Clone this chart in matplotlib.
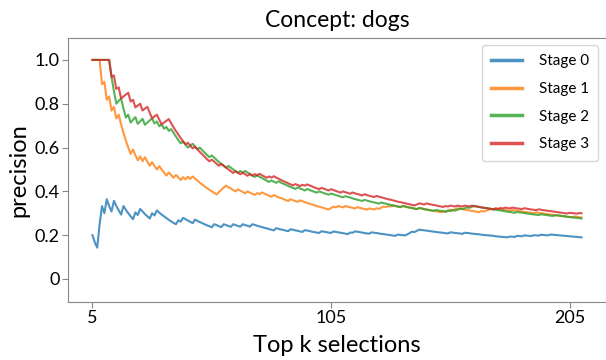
import matplotlib
matplotlib.use("Agg")
import matplotlib.pyplot as plt

plt.rcParams['font.family'] = ['Lato', 'DejaVu Sans']

title = "Concept: dogs"
x_label = "Top k selections"
y_label = "precision"
series_names = ["Stage 0", "Stage 1", "Stage 2", "Stage 3"]
x_ticks = [5, 105, 205]
y_ticks = [0, 0.2, 0.4, 0.6, 0.8, 1.0]
y_tick_labels = ["0", "0.2", "0.4", "0.6", "0.8", "1.0"]

top_k = list(range(5, 211))

stage0 = [
    .200, .167, .143, .250, .333, .300, .364, .333, .308, .357,
    .333, .313, .294, .333, .316, .300, .286, .273, .304, .292,
    .320, .308, .296, .286, .276, .300, .290, .313, .303, .294,
    .286, .278, .270, .263, .256, .250, .268, .262, .279, .273,
    .267, .261, .255, .271, .265, .260, .255, .250, .245, .241,
    .236, .250, .246, .241, .237, .250, .246, .242, .238, .250,
    .246, .242, .239, .250, .246, .243, .239, .250, .247, .243,
    .240, .237, .234, .231, .228, .225, .222, .232, .229, .226,
    .224, .221, .218, .227, .225, .222, .220, .217, .215, .223,
    .221, .219, .216, .214, .212, .210, .218, .216, .214, .212,
    .210, .217, .215, .213, .211, .209, .207, .205, .212, .211,
    .217, .216, .214, .212, .210, .208, .207, .213, .211, .210,
    .208, .206, .205, .203, .202, .200, .198, .197, .203, .201,
    .200, .199, .204, .210, .216, .214, .220, .225, .224, .222,
    .221, .219, .218, .216, .215, .213, .212, .211, .209, .208,
    .213, .212, .210, .209, .208, .206, .211, .210, .209, .207,
    .206, .205, .204, .202, .201, .200, .199, .198, .197, .195,
    .194, .193, .192, .191, .190, .194, .193, .192, .197, .196,
    .195, .199, .198, .197, .196, .200, .199, .198, .202, .201,
    .200, .199, .203, .202, .201, .200, .199, .198, .197, .196,
    .195, .194, .193, .192, .191, .190,
]

stage1 = [
    1.0, 1.0, 1.0, 1.0, .889, .900, .818, .833, .769, .786,
    .733, .750, .706, .667, .632, .600, .571, .591, .565, .542,
    .560, .538, .556, .536, .517, .533, .516, .500, .515, .500,
    .486, .472, .486, .474, .462, .475, .463, .452, .465, .455,
    .467, .457, .468, .458, .449, .440, .431, .423, .415, .407,
    .400, .393, .386, .397, .407, .417, .426, .419, .413, .406,
    .400, .409, .403, .397, .391, .400, .394, .389, .384, .392,
    .387, .395, .390, .385, .380, .375, .383, .378, .373, .369,
    .365, .360, .356, .364, .360, .356, .352, .359, .355, .351,
    .347, .344, .340, .337, .333, .330, .327, .324, .320, .317,
    .324, .330, .327, .333, .330, .327, .333, .330, .327, .325,
    .322, .328, .325, .322, .319, .317, .322, .320, .317, .323,
    .320, .325, .331, .328, .333, .331, .336, .333, .331, .328,
    .333, .331, .328, .326, .324, .321, .319, .324, .322, .319,
    .317, .315, .313, .311, .309, .307, .305, .309, .307, .312,
    .316, .314, .318, .323, .321, .319, .317, .315, .313, .311,
    .309, .307, .305, .310, .308, .312, .316, .320, .318, .322,
    .320, .318, .316, .315, .313, .311, .315, .313, .311, .310,
    .308, .306, .305, .303, .302, .300, .304, .302, .301, .299,
    .297, .296, .294, .293, .291, .290, .289, .287, .286, .284,
    .283, .282, .285, .284, .282, .281,
]

stage2 = [
    1.0, 1.0, 1.0, 1.0, 1.0, 1.0, 1.0, 1.0, .923, .857,
    .800, .813, .824, .778, .737, .750, .714, .727, .739, .708,
    .720, .731, .704, .714, .724, .733, .710, .719, .697, .706,
    .686, .694, .676, .684, .667, .650, .634, .619, .628, .614,
    .600, .609, .617, .604, .592, .600, .588, .577, .566, .556,
    .564, .554, .544, .534, .525, .517, .508, .516, .508, .500,
    .492, .485, .493, .485, .493, .486, .479, .472, .466, .473,
    .467, .461, .455, .449, .443, .450, .444, .439, .446, .440,
    .435, .430, .425, .420, .416, .411, .418, .413, .409, .404,
    .411, .406, .402, .398, .394, .400, .396, .392, .388, .385,
    .390, .387, .383, .380, .376, .373, .378, .375, .372, .368,
    .365, .362, .359, .356, .361, .358, .355, .352, .350, .347,
    .344, .349, .346, .344, .341, .338, .336, .333, .331, .328,
    .333, .331, .328, .326, .324, .321, .319, .324, .322, .319,
    .317, .315, .313, .311, .315, .313, .311, .309, .307, .312,
    .310, .314, .312, .316, .321, .319, .323, .327, .325, .329,
    .333, .331, .329, .327, .325, .324, .322, .320, .318, .316,
    .314, .313, .311, .309, .307, .306, .304, .302, .306, .304,
    .303, .301, .299, .298, .296, .295, .293, .292, .295, .294,
    .292, .291, .289, .288, .291, .290, .289, .287, .286, .284,
    .283, .282, .280, .279, .278, .276,
]

stage3 = [
    1.0, 1.0, 1.0, 1.0, 1.0, 1.0, 1.0, 1.0, .923, .929,
    .867, .875, .824, .833, .842, .850, .810, .818, .783, .792,
    .800, .769, .778, .786, .759, .733, .742, .750, .727, .706,
    .714, .722, .730, .711, .692, .675, .659, .643, .628, .614,
    .622, .609, .596, .604, .592, .580, .569, .558, .547, .537,
    .545, .536, .526, .517, .525, .517, .508, .500, .492, .484,
    .492, .485, .478, .485, .478, .471, .479, .472, .479, .473,
    .480, .474, .468, .462, .468, .463, .469, .463, .458, .452,
    .447, .442, .437, .432, .427, .433, .429, .424, .430, .426,
    .432, .427, .423, .418, .414, .410, .416, .412, .408, .404,
    .410, .406, .402, .398, .394, .400, .396, .393, .389, .395,
    .391, .388, .385, .381, .387, .383, .380, .377, .374, .379,
    .376, .373, .370, .367, .364, .362, .359, .356, .353, .351,
    .348, .346, .343, .341, .338, .336, .340, .345, .343, .340,
    .345, .342, .340, .338, .336, .333, .331, .329, .333, .331,
    .335, .333, .331, .335, .333, .331, .335, .333, .331, .335,
    .333, .331, .329, .327, .325, .324, .322, .320, .318, .322,
    .320, .324, .322, .326, .324, .322, .326, .324, .322, .321,
    .319, .323, .321, .319, .317, .316, .314, .318, .316, .314,
    .313, .311, .310, .308, .307, .305, .303, .302, .300, .299,
    .302, .301, .300, .298, .301, .300,
]

colors = ["#1f77b4", "#ff7f0e", "#2ca02c", "#d62728"]

fig = plt.figure(figsize=(6.06, 3.6), dpi=100)
ax = fig.add_axes([68 / 606, 1 - 302 / 360, 538 / 606, 264 / 360])

for vals, name, c in zip([stage0, stage1, stage2, stage3], series_names, colors):
    ax.plot(top_k, vals, color=c, lw=1.5, alpha=0.8, label=name)

ax.set_xlim(-5.25, 220.25)
ax.set_ylim(-0.105, 1.1)
ax.set_xticks(x_ticks)
ax.set_xticklabels([str(t) for t in x_ticks])
ax.set_yticks(y_ticks)
ax.set_yticklabels(y_tick_labels)
ax.tick_params(labelsize=13, length=4, color="#888888", pad=2)

for s in ["left", "bottom", "top"]:
    ax.spines[s].set_color("#888888")
ax.spines["right"].set_visible(False)

ax.set_title(title, fontsize=16.5, pad=8)
ax.set_xlabel(x_label, fontsize=17, labelpad=6)
ax.set_ylabel(y_label, fontsize=17, labelpad=4)

leg = ax.legend(loc="upper right", bbox_to_anchor=(598 / 606, 1 - 45 / 360),
                bbox_transform=fig.transFigure, borderaxespad=0,
                fontsize=11, labelspacing=0.9, handlelength=2.0,
                handletextpad=1.1, borderpad=0.6, fancybox=True)
for line in leg.get_lines():
    line.set_linewidth(2.5)

fig.savefig("out.png", dpi=100)
